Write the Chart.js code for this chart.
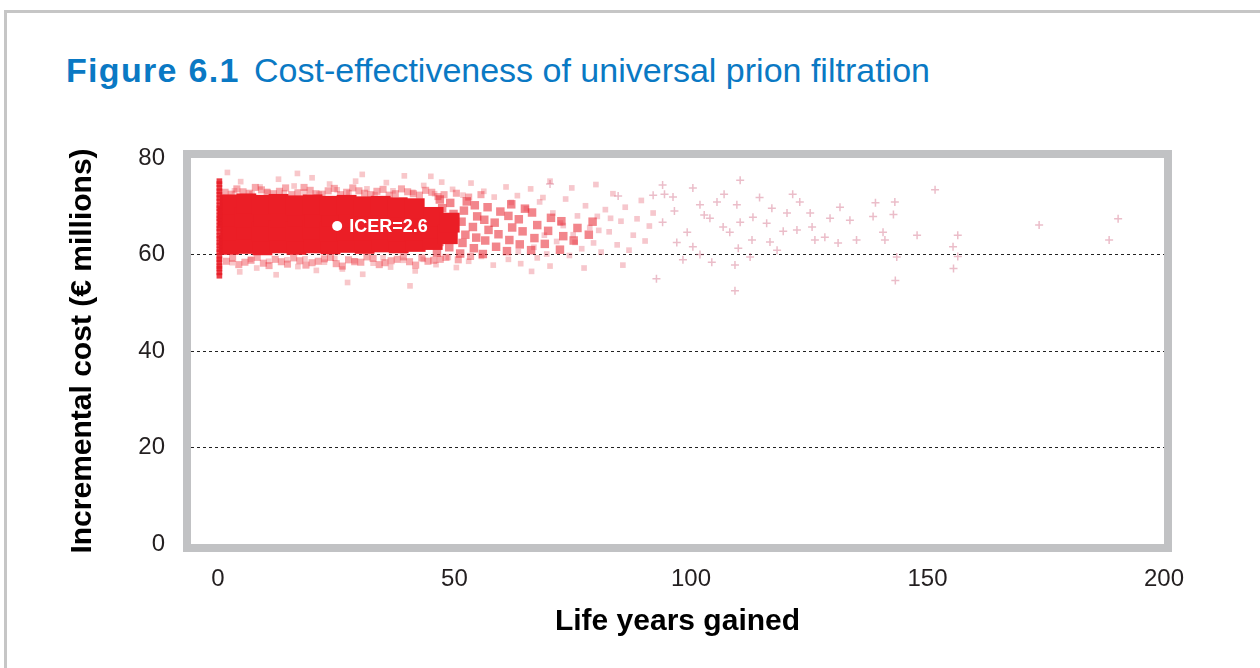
<!DOCTYPE html>
<html>
<head>
<meta charset="utf-8">
<script src="https://cdn.jsdelivr.net/npm/chart.js@4/dist/chart.umd.min.js"></script>
<style>
  html, body { margin: 0; padding: 0; background: #fff; overflow: hidden; }
  #page { position: absolute; left: 4px; top: 10px; width: 1300px; height: 700px;
          border-top: 3px solid #c6c6c6; border-left: 3px solid #c6c6c6; }
  #title { position: absolute; left: 66px; top: 53px; font-family: "Liberation Sans", Arial, sans-serif;
           font-size: 34px; line-height: 34px; color: #0a79c4; white-space: nowrap; }
  #title b { font-weight: bold; letter-spacing: 1.3px; margin-right: 5px; }
  #wrap { position: absolute; left: 0; top: 0; width: 1260px; height: 668px; }
</style>
</head>
<body>
<div id="page"></div>
<div id="title"><b>Figure 6.1</b> Cost-effectiveness of universal prion filtration</div>
<div id="wrap"><canvas id="chart"></canvas></div>
<script>
// Axis ticks
var xTicks = [0, 50, 100, 150, 200];
var yTicks = [0, 20, 40, 60, 80];

// Simulation cloud (life years gained, incremental cost in € millions)
// vertical strip of runs with ~0 life years gained
var stripX = 0.3;
var stripY = [55.6, 56.3, 57.1, 57.6, 58.4, 59.0, 59.7, 60.5, 61.1, 61.9, 62.5, 63.3, 63.9, 64.7, 65.4,
              66.0, 66.8, 67.5, 68.1, 68.9, 69.6, 70.2, 71.0, 71.7, 72.4, 73.1, 73.8, 74.6, 75.2];

// dense core of the cloud
var coreRuns = [
  [2.3,62.0],[2.6,64.9],[2.1,67.9],[2.5,70.4],
  [5.8,62.2],[6.1,65.1],[5.6,67.7],[6.0,70.6],
  [9.4,61.9],[9.1,64.8],[9.6,67.9],[9.2,70.3],
  [13.0,62.3],[12.7,65.0],[13.2,67.6],[12.8,70.5],
  [16.6,62.0],[16.3,64.7],[16.8,67.9],[16.4,70.2],
  [20.2,62.3],[19.9,65.1],[20.4,67.7],[20.0,70.4],
  [23.8,62.1],[23.5,64.8],[24.0,67.8],[23.6,70.1],
  [27.4,62.4],[27.1,65.0],[27.6,67.6],[27.2,70.3],
  [31.0,62.2],[30.7,64.9],[31.2,67.9],[30.8,70.0],
  [34.6,62.5],[34.3,65.1],[34.8,67.7],[34.4,70.1],
  [38.2,62.3],[37.9,64.8],[38.4,67.5],[38.0,69.8],
  [41.8,62.6],[41.5,65.0],[42.0,67.6],[41.6,69.6],
  [45.4,63.0],[45.1,65.4],[45.6,67.8],
  [48.6,64.2],[49.0,66.6]
];

// thinning part of the cloud
var midRuns = [
  [46.3,60.4],[46.8,62.6],[47.1,64.9],[46.5,67.3],[47.4,69.6],[46.9,71.4],
  [48.9,61.5],[49.4,63.9],[48.6,66.0],[49.8,68.4],[49.1,70.7],
  [51.2,60.2],[51.7,62.4],[52.3,64.1],[51.5,66.8],[52.0,69.1],[52.6,71.0],
  [54.1,61.3],[54.6,63.5],[53.9,65.7],[54.8,67.9],[54.3,70.2],
  [56.0,60.1],[56.5,62.9],[57.2,65.1],[56.3,67.2],[57.0,69.8],
  [58.8,61.6],[59.3,64.2],[58.5,66.6],[59.7,68.9],
  [61.1,60.7],[61.6,63.0],[62.2,65.6],[61.4,68.0],[62.0,70.4],
  [63.8,62.1],[64.4,64.8],[63.6,67.3],[64.9,69.5],
  [66.2,60.9],[66.9,63.4],[67.5,66.1],[66.4,68.7],
  [69.1,62.2],[69.8,64.9],[70.4,67.6],
  [72.3,61.0],[73.0,63.8],[72.6,66.9],
  [75.2,62.9],[76.0,65.5],[78.4,64.1],[79.2,66.8]
];

// fuzzy band right at the edges of the core
var rimRuns = [
  [1.5,72.9],[4.0,73.6],[6.6,72.7],[9.2,73.4],[11.7,72.6],[14.3,73.8],[16.9,72.8],[19.5,73.3],
  [22.0,72.5],[24.6,73.7],[27.2,72.9],[29.8,73.2],[32.3,72.4],[34.9,73.5],[37.5,72.6],[40.1,73.0],
  [42.6,72.3],[45.2,72.9],[47.8,72.4],[50.4,72.7],[53.0,71.9],[55.6,72.4],
  [2.8,72.5],[5.3,73.0],[7.9,73.9],[10.4,72.8],[13.0,73.1],[15.6,72.4],[18.2,73.9],[20.7,72.6],
  [23.3,73.2],[25.9,72.4],[28.5,73.8],[31.0,72.7],[33.6,73.1],[36.2,72.3],[38.8,73.6],[41.3,72.6],
  [43.9,73.3],[46.5,72.0],
  [1.8,58.6],[4.4,57.9],[7.0,58.8],[9.6,58.2],[12.1,59.0],[14.7,58.0],[17.3,58.7],[19.9,58.3],
  [22.5,59.1],[25.0,58.1],[27.6,58.9],[30.2,58.4],[32.8,59.2],[35.3,58.3],[37.9,59.0],[40.5,58.5],
  [43.1,59.3],[45.6,58.8],[48.2,59.4],[50.8,58.9],[53.4,59.6],
  [3.1,59.2],[5.7,58.4],[8.3,59.4],[10.8,57.7],[13.4,58.5],[16.0,59.3],[18.6,57.8],[21.2,58.6],
  [23.8,59.4],[26.3,57.6],[28.9,58.5],[31.5,59.5],[34.1,57.9],[36.6,58.7],[39.2,59.5],[41.8,57.8],
  [44.4,58.6],[47.0,59.0]
];

// loose runs above and below the core
var edgeRuns = [
  [3.5,73.2],[4.8,75.1],[7.2,72.6],[8.9,74.0],[10.5,73.1],[12.8,75.6],[14.0,72.8],[16.1,74.2],
  [18.3,73.0],[19.9,75.9],[21.4,72.5],[23.6,74.6],[25.2,73.4],[27.7,72.8],[29.1,75.2],[31.5,73.6],
  [33.2,72.4],[35.6,74.9],[37.0,73.2],[39.4,76.3],[41.2,72.9],[43.5,74.3],[45.8,72.6],[47.3,75.0],
  [49.6,73.5],[51.8,72.3],[53.5,74.8],[56.2,73.1],[58.4,71.9],[60.9,74.0],[63.3,72.2],[66.1,73.6],
  [68.7,71.8],[2.0,77.0],[16.8,76.8],[30.5,76.6],[45.0,76.2],
  [3.0,58.3],[4.6,56.4],[6.9,59.0],[8.2,57.2],[10.7,58.6],[12.3,55.8],[14.6,58.9],[16.9,57.5],
  [18.4,59.1],[20.8,56.7],[22.5,58.4],[24.7,59.2],[26.3,57.0],[28.9,58.7],[30.6,55.9],[32.8,58.2],
  [34.9,59.3],[36.5,57.4],[39.2,58.8],[41.7,56.6],[43.4,59.0],[46.1,57.9],[48.7,59.4],[50.4,57.3],
  [53.0,58.6],[55.7,59.6],[58.2,57.8],[61.4,59.0],[64.0,58.1],[67.5,59.3],[70.2,57.6],[27.4,54.2],[40.6,53.5]
];

// medium density runs, 60-92 life years
var scatterRuns = [
  [62.0,70.8],[63.5,60.6],[65.2,69.5],[66.8,61.5],[68.0,70.9],[69.5,60.1],[70.8,68.6],[71.6,62.7],
  [72.4,66.5],[73.5,71.5],[74.3,59.8],[75.1,64.1],[76.0,68.0],[76.9,61.2],[77.7,70.1],[78.6,65.6],
  [79.4,62.4],[80.2,67.9],[81.0,60.5],[81.9,69.3],[82.7,64.7],[83.5,72.6],[84.4,62.0],[85.2,66.9],
  [86.1,69.8],[86.9,60.9],[87.8,64.0],[88.6,67.4],[89.5,71.2],[90.3,62.8],[91.2,65.9],[92.0,68.6],
  [74.8,73.8],[79.9,74.5],[70.2,75.2],[85.6,57.8],[77.4,57.2],[66.3,56.5],[73.0,66.0],[75.5,62.5],
  [69.0,64.0],[80.5,65.0],[83.0,67.5]
];

// isolated runs, beyond 92 life years
var sparseRuns = [
  [94.0,74.4],[92.0,72.3],[100.4,73.8],[110.4,75.4],[96.2,71.9],[105.5,70.9],[101.9,70.3],[94.0,66.7],
  [99.2,64.6],[104.0,67.5],[109.7,70.3],[110.4,66.7],[113.1,67.7],[116.0,66.5],[117.1,69.6],[120.3,68.6],
  [123.0,70.9],[125.2,68.6],[122.4,65.1],[125.6,65.7],[126.2,63.0],[128.3,63.6],[129.4,67.5],[131.5,69.8],
  [133.6,67.1],[131.1,62.4],[135.0,63.0],[139.0,70.7],[143.1,70.9],[140.6,64.6],[141.0,63.0],[143.5,59.5],
  [116.7,62.6],[118.2,60.9],[112.5,59.5],[109.3,57.8],[104.4,58.4],[98.3,58.9],[101.9,60.0],[110.0,61.3],
  [112.9,63.0],[106.8,65.7],[108.2,64.6],[100.4,61.6],[151.6,73.4],[147.8,64.0],[156.4,64.0],[155.4,61.6],
  [173.6,66.1],[190.3,67.4],[188.4,63.0],[156.4,59.6],[155.5,57.1],[142.8,68.3],[138.5,67.9],[143.2,54.6],
  [109.3,52.5],[92.7,55.0],[84.6,72.1],[94.4,72.5],[70.2,74.6],[96.5,69.0],[102.8,68.2],[97.0,62.5],
  [107.0,72.5],[114.5,71.8],[119.5,64.8],[121.5,72.5]
];

// mean result
var icer = { x: 25.2, y: 65.9, label: "ICER=2.6" };

function toPoints(list) {
  return list.map(function (p) { return { x: p[0], y: p[1] }; });
}

var sans = '"Liberation Sans", Arial, sans-serif';

// thick grey frame round the plot
var framePlugin = {
  id: 'frame',
  afterDatasetsDraw: function (chart) {
    var a = chart.chartArea, c = chart.ctx;
    c.save();
    c.strokeStyle = '#c1c2c4';
    c.lineWidth = 8;
    c.strokeRect(a.left - 4, a.top - 4, a.right - a.left + 8, a.bottom - a.top + 8);
    c.restore();
  }
};

// ICER text next to the white dot
var icerPlugin = {
  id: 'icerLabel',
  afterDatasetsDraw: function (chart) {
    var xs = chart.scales.x, ys = chart.scales.y, c = chart.ctx;
    c.save();
    c.fillStyle = '#ffffff';
    c.font = 'bold 18px ' + sans;
    c.textBaseline = 'middle';
    c.fillText(icer.label, xs.getPixelForValue(icer.x) + 12, ys.getPixelForValue(icer.y) + 1);
    c.restore();
  }
};

var ctx = document.getElementById('chart').getContext('2d');
var chart = new Chart(ctx, {
  type: 'scatter',
  data: {
    datasets: [
      {
        label: 'ICER', data: [{ x: icer.x, y: icer.y }], order: 0,
        pointStyle: 'circle', pointRadius: 5, backgroundColor: '#ffffff', borderWidth: 0
      },
      {
        label: 'strip', data: stripY.map(function (v) { return { x: stripX, y: v }; }), order: 1,
        pointStyle: 'rect', pointRadius: 4, backgroundColor: 'rgba(232,28,38,0.85)', borderWidth: 0
      },
      {
        label: 'core', data: toPoints(coreRuns), order: 2,
        pointStyle: 'rect', pointRadius: 14, backgroundColor: 'rgb(235,30,38)', borderWidth: 0
      },
      {
        label: 'mid', data: toPoints(midRuns), order: 3,
        pointStyle: 'rect', pointRadius: 6, backgroundColor: 'rgba(232,35,45,0.55)', borderWidth: 0
      },
      {
        label: 'rim', data: toPoints(rimRuns), order: 4,
        pointStyle: 'rect', pointRadius: 5, backgroundColor: 'rgba(234,40,50,0.4)', borderWidth: 0
      },
      {
        label: 'edge', data: toPoints(edgeRuns), order: 5,
        pointStyle: 'rect', pointRadius: 4, backgroundColor: 'rgba(232,70,80,0.3)', borderWidth: 0
      },
      {
        label: 'scatter', data: toPoints(scatterRuns), order: 6,
        pointStyle: 'rect', pointRadius: 4, backgroundColor: 'rgba(225,70,90,0.3)', borderWidth: 0
      },
      {
        label: 'sparse', data: toPoints(sparseRuns), order: 7,
        pointStyle: 'cross', pointRadius: 4, borderColor: 'rgba(205,90,120,0.4)', borderWidth: 1.5
      }
    ]
  },
  options: {
    responsive: true,
    maintainAspectRatio: false,
    animation: false,
    layout: { padding: { left: 65, right: 96, top: 158, bottom: 28 } },
    plugins: {
      legend: { display: false },
      tooltip: { enabled: false }
    },
    scales: {
      x: {
        type: 'linear',
        min: -5.7,
        max: 200,
        afterBuildTicks: function (scale) {
          scale.ticks = xTicks.map(function (v) { return { value: v }; });
        },
        afterFit: function (scale) { scale.height = 96; },
        grid: { display: false },
        border: { display: false },
        ticks: { padding: 13, color: '#231f20', font: { family: sans, size: 24 } },
        title: {
          display: true, text: 'Life years gained', color: '#000',
          padding: { top: 0, bottom: 0 },
          font: { family: sans, size: 30, weight: 'bold' }
        }
      },
      y: {
        type: 'linear',
        min: 0,
        max: 80,
        z: 1,
        afterBuildTicks: function (scale) {
          scale.ticks = yTicks.map(function (v) { return { value: v }; });
        },
        afterFit: function (scale) { scale.width = 126; },
        grid: {
          drawTicks: false,
          lineWidth: 1,
          color: function (c) {
            var v = c.tick ? c.tick.value : null;
            return (v === 0 || v === 80) ? 'rgba(0,0,0,0)' : '#222';
          }
        },
        border: { display: false, dash: [3, 3] },
        ticks: { padding: 26, color: '#231f20', font: { family: sans, size: 24 } },
        title: {
          display: true, text: 'Incremental cost (€ millions)', color: '#000',
          padding: { top: 0, bottom: 0 },
          font: { family: sans, size: 30, weight: 'bold' }
        }
      }
    }
  },
  plugins: [framePlugin, icerPlugin]
});
</script>
</body>
</html>
